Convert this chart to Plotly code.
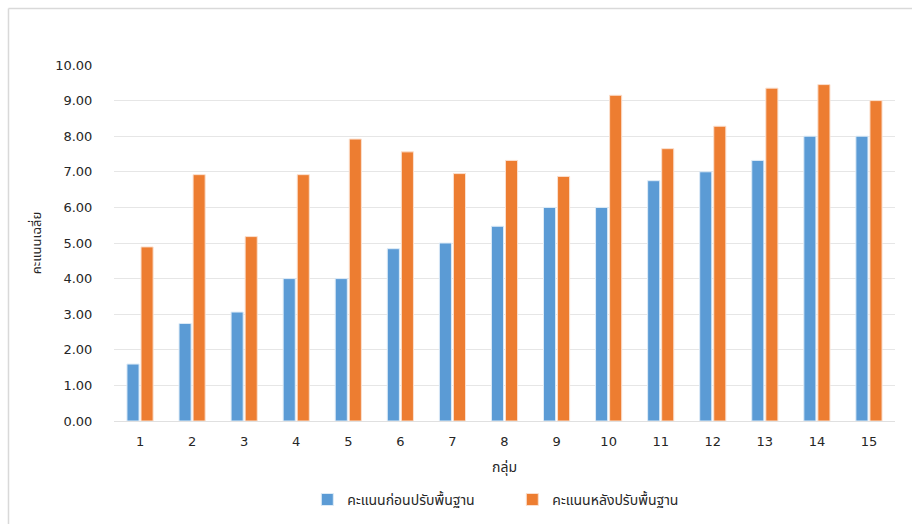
import plotly.graph_objects as go

groups = [str(i) for i in range(1, 16)]
before = [1.60, 2.74, 3.06, 4.00, 4.00, 4.84, 5.00, 5.47, 6.00, 6.00, 6.75, 7.00, 7.32, 8.00, 8.00]
after = [4.89, 6.92, 5.18, 6.92, 7.92, 7.56, 6.95, 7.32, 6.87, 9.15, 7.65, 8.28, 9.35, 9.45, 9.00]
name_before = "คะแนนก่อนปรับพื้นฐาน"
name_after = "คะแนนหลังปรับพื้นฐาน"
y_ticks = [0, 1, 2, 3, 4, 5, 6, 7, 8, 9, 10]

font_family = "DejaVu Sans, Noto Sans Thai, Noto Sans, sans-serif"

fig = go.Figure()
fig.add_trace(go.Bar(x=groups, y=before, name=name_before,
                     marker=dict(color="#5B9BD5", line=dict(color="#DDEBF7", width=1))))
fig.add_trace(go.Bar(x=groups, y=after, name=name_after,
                     marker=dict(color="#ED7D31", line=dict(color="#FBE0CF", width=1))))

border = dict(color="#D9D9D9", width=1.5)

fig.update_layout(
    width=912, height=524,
    margin=dict(l=114, r=17, t=65, b=103, autoexpand=False),
    paper_bgcolor="white", plot_bgcolor="white",
    barmode="group", bargap=0.46, bargroupgap=0.14,
    font=dict(family=font_family, size=13, color="#262626"),
    showlegend=True,
    legend=dict(orientation="h", x=0.51, xanchor="center",
                yref="container", y=0.046, yanchor="middle",
                font=dict(size=14, color="#262626"), itemwidth=30,
                entrywidth=160, traceorder="normal"),
    xaxis=dict(type="category", showgrid=False, showline=False, ticks="outside",
               ticklen=8, tickcolor="rgba(0,0,0,0)", automargin=False,
               tickfont=dict(size=13, color="#262626"),
               title=dict(text="กลุ่ม", font=dict(size=14, color="#262626"), standoff=14)),
    yaxis=dict(range=[0, 10], tickvals=y_ticks, tickformat=".2f", automargin=False,
               showgrid=True, gridcolor="#E6E6E6", gridwidth=1,
               zeroline=True, zerolinecolor="#E0E0E0", zerolinewidth=1,
               ticks="outside", ticklen=18, tickcolor="rgba(0,0,0,0)",
               tickfont=dict(size=13, color="#262626"),
               title=dict(text="คะแนนเฉลี่ย", font=dict(size=13, color="#262626"), standoff=10)),
    shapes=[
        dict(type="line", xref="paper", yref="paper", x0=-0.1351, x1=1.1, y0=1.1587, y1=1.1587, line=border),
        dict(type="line", xref="paper", yref="paper", x0=-0.1351, x1=-0.1351, y0=-0.5, y1=1.1587, line=border),
    ],
)

fig.write_html("out.html")
